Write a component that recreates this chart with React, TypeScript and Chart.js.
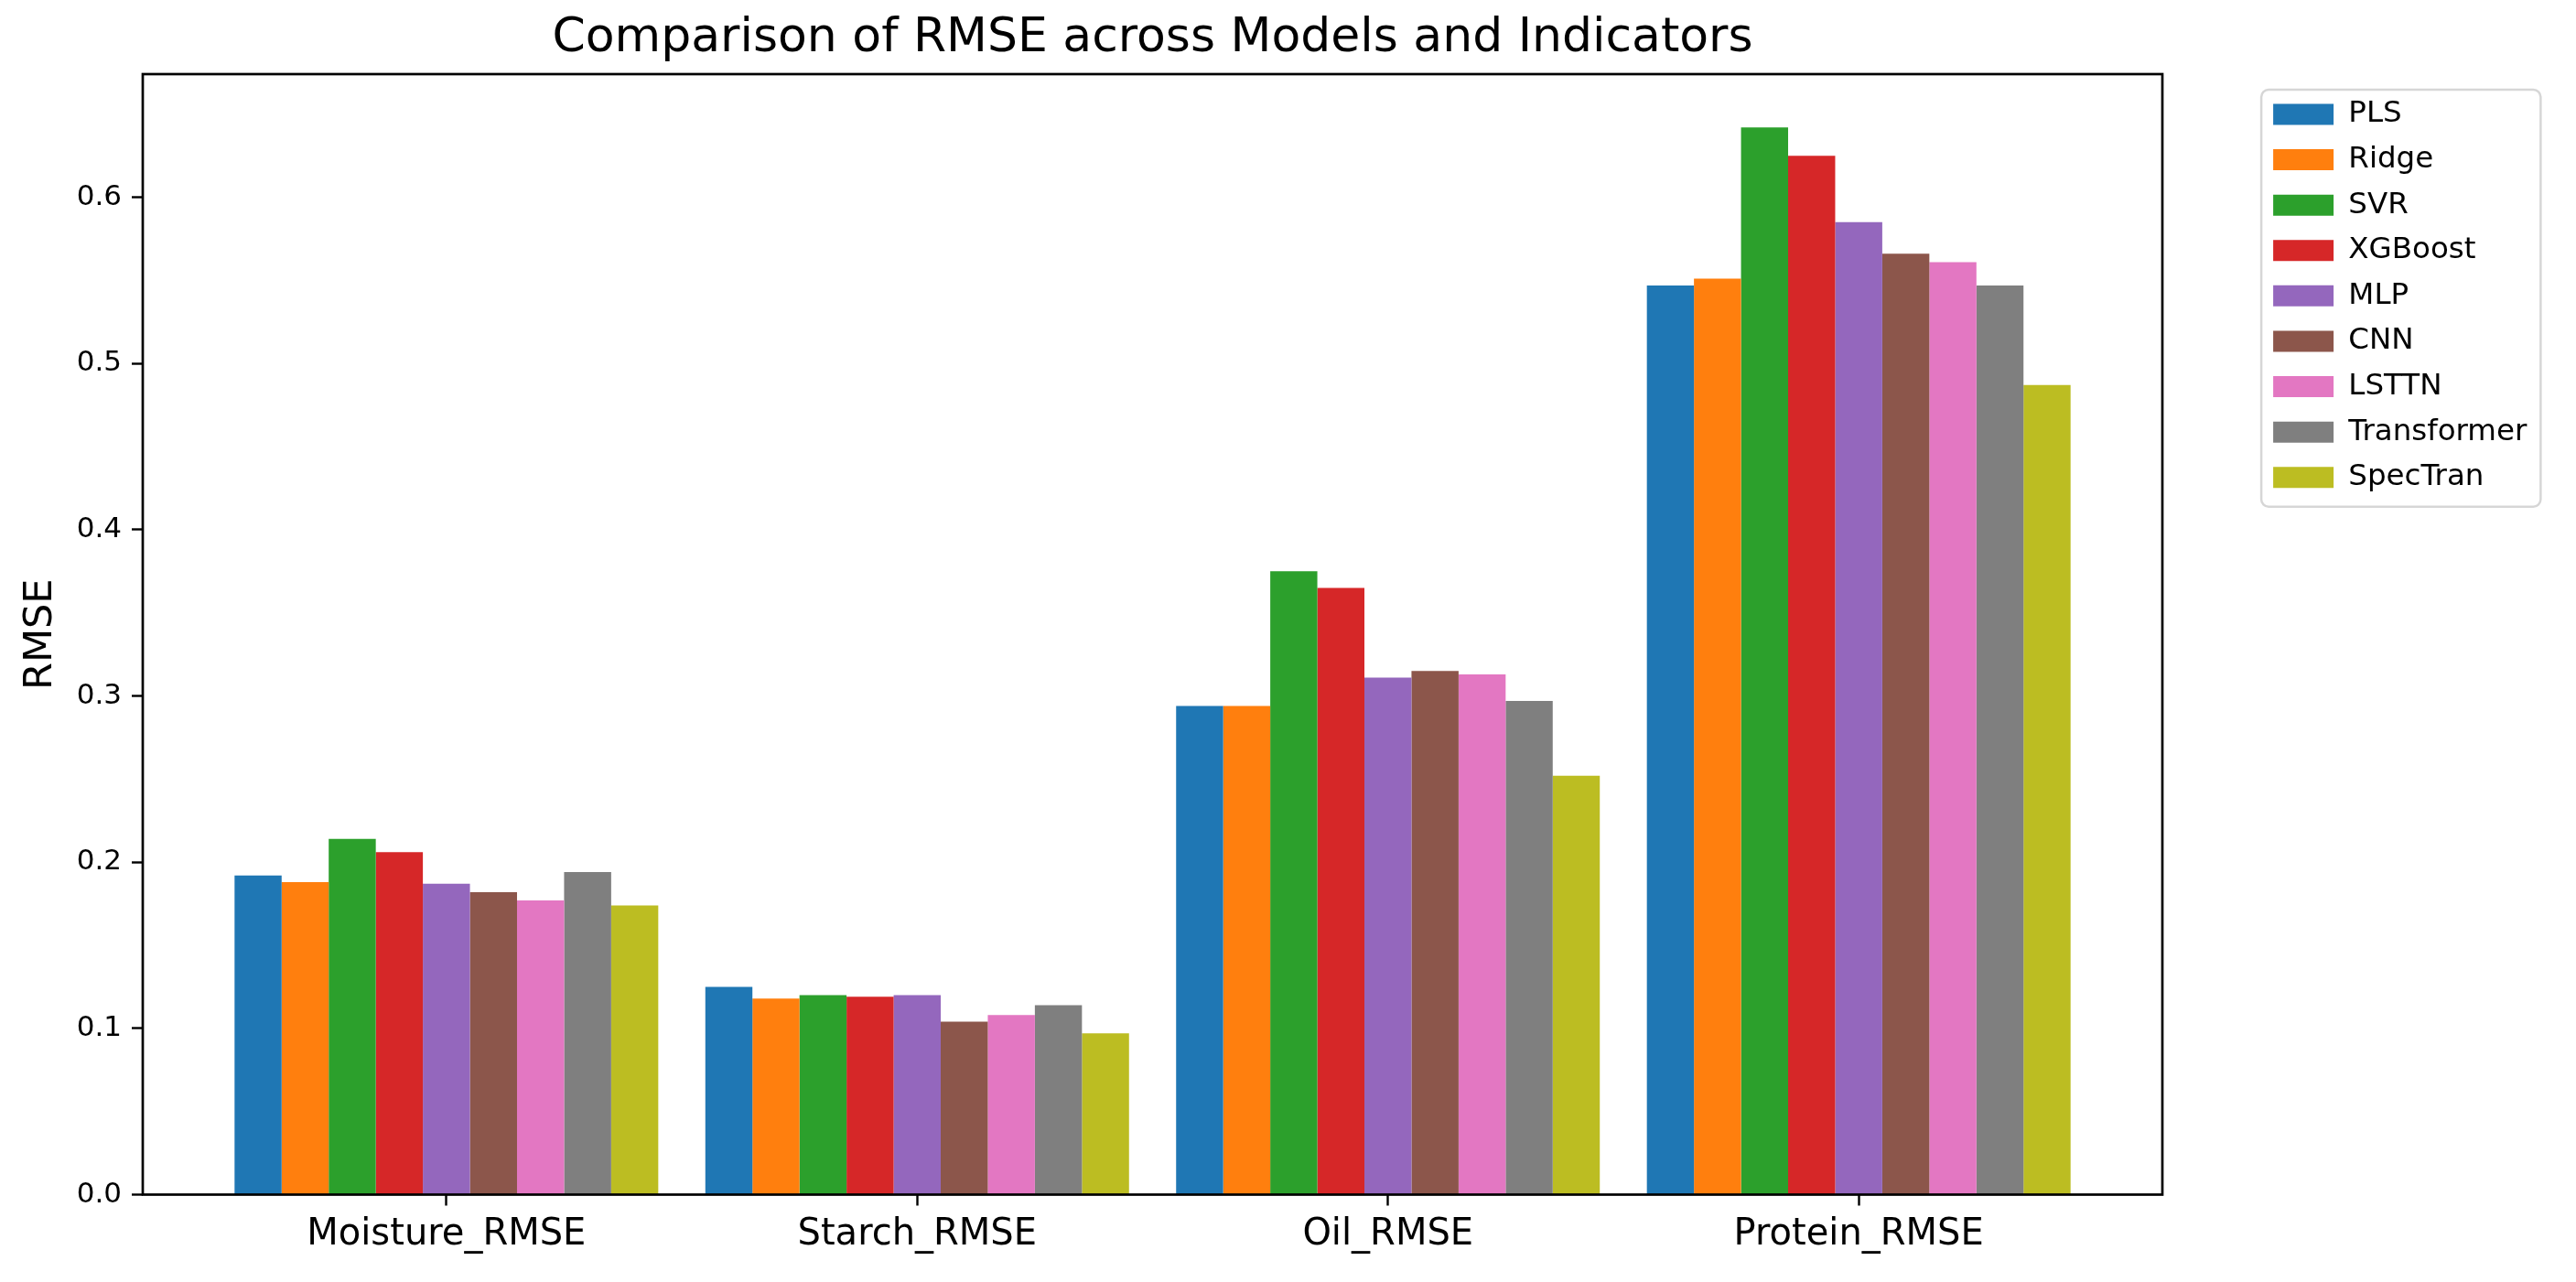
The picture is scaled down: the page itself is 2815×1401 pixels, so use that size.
import React, { useEffect, useRef } from 'react';
import { Chart, registerables } from 'chart.js';

Chart.register(...registerables);

// ---------- data ----------
const categories = ['Moisture_RMSE', 'Starch_RMSE', 'Oil_RMSE', 'Protein_RMSE'];
const models = ['PLS', 'Ridge', 'SVR', 'XGBoost', 'MLP', 'CNN', 'LSTTN', 'Transformer', 'SpecTran'];
const modelColors = ['#1f77b4', '#ff7f0e', '#2ca02c', '#d62728', '#9467bd', '#8c564b', '#e377c2', '#7f7f7f', '#bcbd22'];

const plsValues = [0.192, 0.125, 0.294, 0.547];
const ridgeValues = [0.188, 0.118, 0.294, 0.551];
const svrValues = [0.214, 0.120, 0.375, 0.642];
const xgboostValues = [0.206, 0.119, 0.365, 0.625];
const mlpValues = [0.187, 0.120, 0.311, 0.585];
const cnnValues = [0.182, 0.104, 0.315, 0.566];
const lsttnValues = [0.177, 0.108, 0.313, 0.561];
const transformerValues = [0.194, 0.114, 0.297, 0.547];
const spectranValues = [0.174, 0.097, 0.252, 0.487];

const seriesValues = [
  plsValues, ridgeValues, svrValues, xgboostValues, mlpValues,
  cnnValues, lsttnValues, transformerValues, spectranValues,
];

const yTickValues = [0, 0.1, 0.2, 0.3, 0.4, 0.5, 0.6];

const titleText = 'Comparison of RMSE across Models and Indicators';
const yTitleText = 'RMSE';

// ---------- style ----------
const FONT = '"DejaVu Sans", sans-serif';
const W = 2815;
const H = 1401;
const TICK_FONT = 31;
const XTICK_FONT = 40;
const TITLE_FONT = 52;
const YTITLE_FONT = 43;
const LEG_FONT = 32.5;
const LEG_PAD = 17.1;
const LEG_TITLE_H = 10.6;
const LEG_BOX_W = 66;
const LEG_BOX_H = 23;
const SPINE_W = 2.7;
const AREA_LEFT = 156;
const AREA_RIGHT = 2363;
const AREA_BOTTOM = 1305.5;
const LEGEND_LEFT = 2467;

// matplotlib-like autoscale
const barWidthUnits = 0.1;
const groupHalf = (models.length * barWidthUnits) / 2;
const xSpan = categories.length - 1 + 2 * groupHalf;
const xMin = -groupHalf - 0.05 * xSpan;
const xMax = categories.length - 1 + groupHalf + 0.05 * xSpan;
const yMax = Math.max(...seriesValues.flat()) * 1.05;

const spinesPlugin = {
  id: 'spines',
  afterDatasetsDraw(chart: any) {
    const { ctx, chartArea } = chart;
    ctx.save();
    ctx.strokeStyle = '#000';
    ctx.lineWidth = SPINE_W;
    ctx.strokeRect(chartArea.left, chartArea.top, chartArea.right - chartArea.left, chartArea.bottom - chartArea.top);
    ctx.restore();
  },
};

const legendFramePlugin = {
  id: 'legendFrame',
  beforeDraw(chart: any) {
    const lg = chart.legend;
    if (!lg || !lg.legendHitBoxes || !lg.legendHitBoxes.length) return;
    const hbs = lg.legendHitBoxes;
    const ctx = chart.ctx;
    const x0 = Math.min(...hbs.map((h: any) => h.left)) - 13;
    const x1 = Math.max(...hbs.map((h: any) => h.left + h.width)) + 15;
    const first = hbs[0];
    const last = hbs[hbs.length - 1];
    const y0 = first.top + first.height / 2 - 27;
    const y1 = last.top + last.height / 2 + 32;
    ctx.save();
    ctx.beginPath();
    (ctx as any).roundRect(x0, y0, x1 - x0, y1 - y0, 8);
    ctx.fillStyle = 'rgba(255,255,255,0.8)';
    ctx.fill();
    ctx.strokeStyle = 'rgba(204,204,204,0.8)';
    ctx.lineWidth = 2.5;
    ctx.stroke();
    ctx.restore();
  },
};

export default function App() {
  const ref = useRef<HTMLCanvasElement>(null);

  useEffect(() => {
    const canvas = ref.current;
    if (!canvas) return;

    // measure the widest legend label to size the legend box
    const mctx = document.createElement('canvas').getContext('2d') as CanvasRenderingContext2D;
    mctx.font = `${LEG_FONT}px ${FONT}`;
    const maxTextW = Math.max(...models.map((m) => mctx.measureText(m).width));
    const legendWidth = LEG_PAD + LEG_BOX_W + LEG_FONT / 2 + maxTextW + 10;
    const spacerWidth = LEGEND_LEFT - AREA_RIGHT;
    const padRight = Math.max(0, W - LEGEND_LEFT - legendWidth);

    const datasets = models.map((name, j) => ({
      label: name,
      data: categories.map((_, i) => ({ x: i, y: seriesValues[j][i] })),
      backgroundColor: modelColors[j],
      borderWidth: 0,
      categoryPercentage: models.length * barWidthUnits,
      barPercentage: 1,
    }));

    const chart = new Chart(canvas, {
      type: 'bar',
      data: { datasets },
      plugins: [spinesPlugin, legendFramePlugin],
      options: {
        animation: false,
        responsive: false,
        devicePixelRatio: 1,
        layout: { padding: { top: 0, right: padRight, bottom: 0, left: 0 } },
        plugins: {
          title: {
            display: true,
            text: titleText,
            fullSize: false,
            color: '#000',
            font: { family: FONT, size: TITLE_FONT, weight: 'normal', lineHeight: 1.2 },
            padding: { top: 11, bottom: 7.6 },
          },
          legend: {
            display: true,
            position: 'right',
            align: 'start',
            fullSize: false,
            title: { display: true, text: '', font: { size: LEG_TITLE_H, lineHeight: 1 }, padding: 0 },
            labels: {
              boxWidth: LEG_BOX_W,
              boxHeight: LEG_BOX_H,
              padding: LEG_PAD,
              color: '#000',
              font: { family: FONT, size: LEG_FONT },
            },
          },
          tooltip: { enabled: false },
        },
        scales: {
          x: {
            type: 'linear',
            min: xMin,
            max: xMax,
            offset: false,
            afterBuildTicks: (scale: any) => {
              scale.ticks = categories.map((_, i) => ({ value: i }));
            },
            afterFit: (scale: any) => {
              scale.height = H - AREA_BOTTOM;
            },
            ticks: {
              autoSkip: false,
              maxRotation: 0,
              minRotation: 0,
              padding: 8,
              color: '#000',
              font: { family: FONT, size: XTICK_FONT },
              callback: (v: any) => categories[Math.round(Number(v))] ?? '',
            },
            grid: {
              display: true,
              offset: false,
              drawOnChartArea: false,
              drawTicks: true,
              tickLength: 12,
              tickColor: '#000',
              tickWidth: 2.4,
            },
            border: { display: false },
          },
          y: {
            type: 'linear',
            position: 'left',
            min: 0,
            max: yMax,
            afterBuildTicks: (scale: any) => {
              scale.ticks = yTickValues.map((v) => ({ value: v }));
            },
            afterFit: (scale: any) => {
              scale.width = AREA_LEFT;
            },
            ticks: {
              padding: 11,
              color: '#000',
              font: { family: FONT, size: TICK_FONT },
              callback: (v: any) => Number(v).toFixed(1),
            },
            grid: {
              display: true,
              drawOnChartArea: false,
              drawTicks: true,
              tickLength: 12,
              tickColor: '#000',
              tickWidth: 2.4,
            },
            border: { display: false },
            title: {
              display: true,
              text: yTitleText,
              color: '#000',
              font: { family: FONT, size: YTITLE_FONT, lineHeight: 1.2 },
              padding: { top: 19, bottom: 0 },
            },
          },
          spacer: {
            type: 'linear',
            position: 'right',
            display: true,
            afterFit: (scale: any) => {
              scale.width = spacerWidth;
            },
            ticks: { display: false },
            grid: { display: false, drawTicks: false },
            border: { display: false },
          },
        },
      } as any,
    });

    return () => chart.destroy();
  }, []);

  return (
    <canvas
      ref={ref}
      width={W}
      height={H}
      style={{ position: 'absolute', left: 0, top: 0, display: 'block' }}
    />
  );
}
